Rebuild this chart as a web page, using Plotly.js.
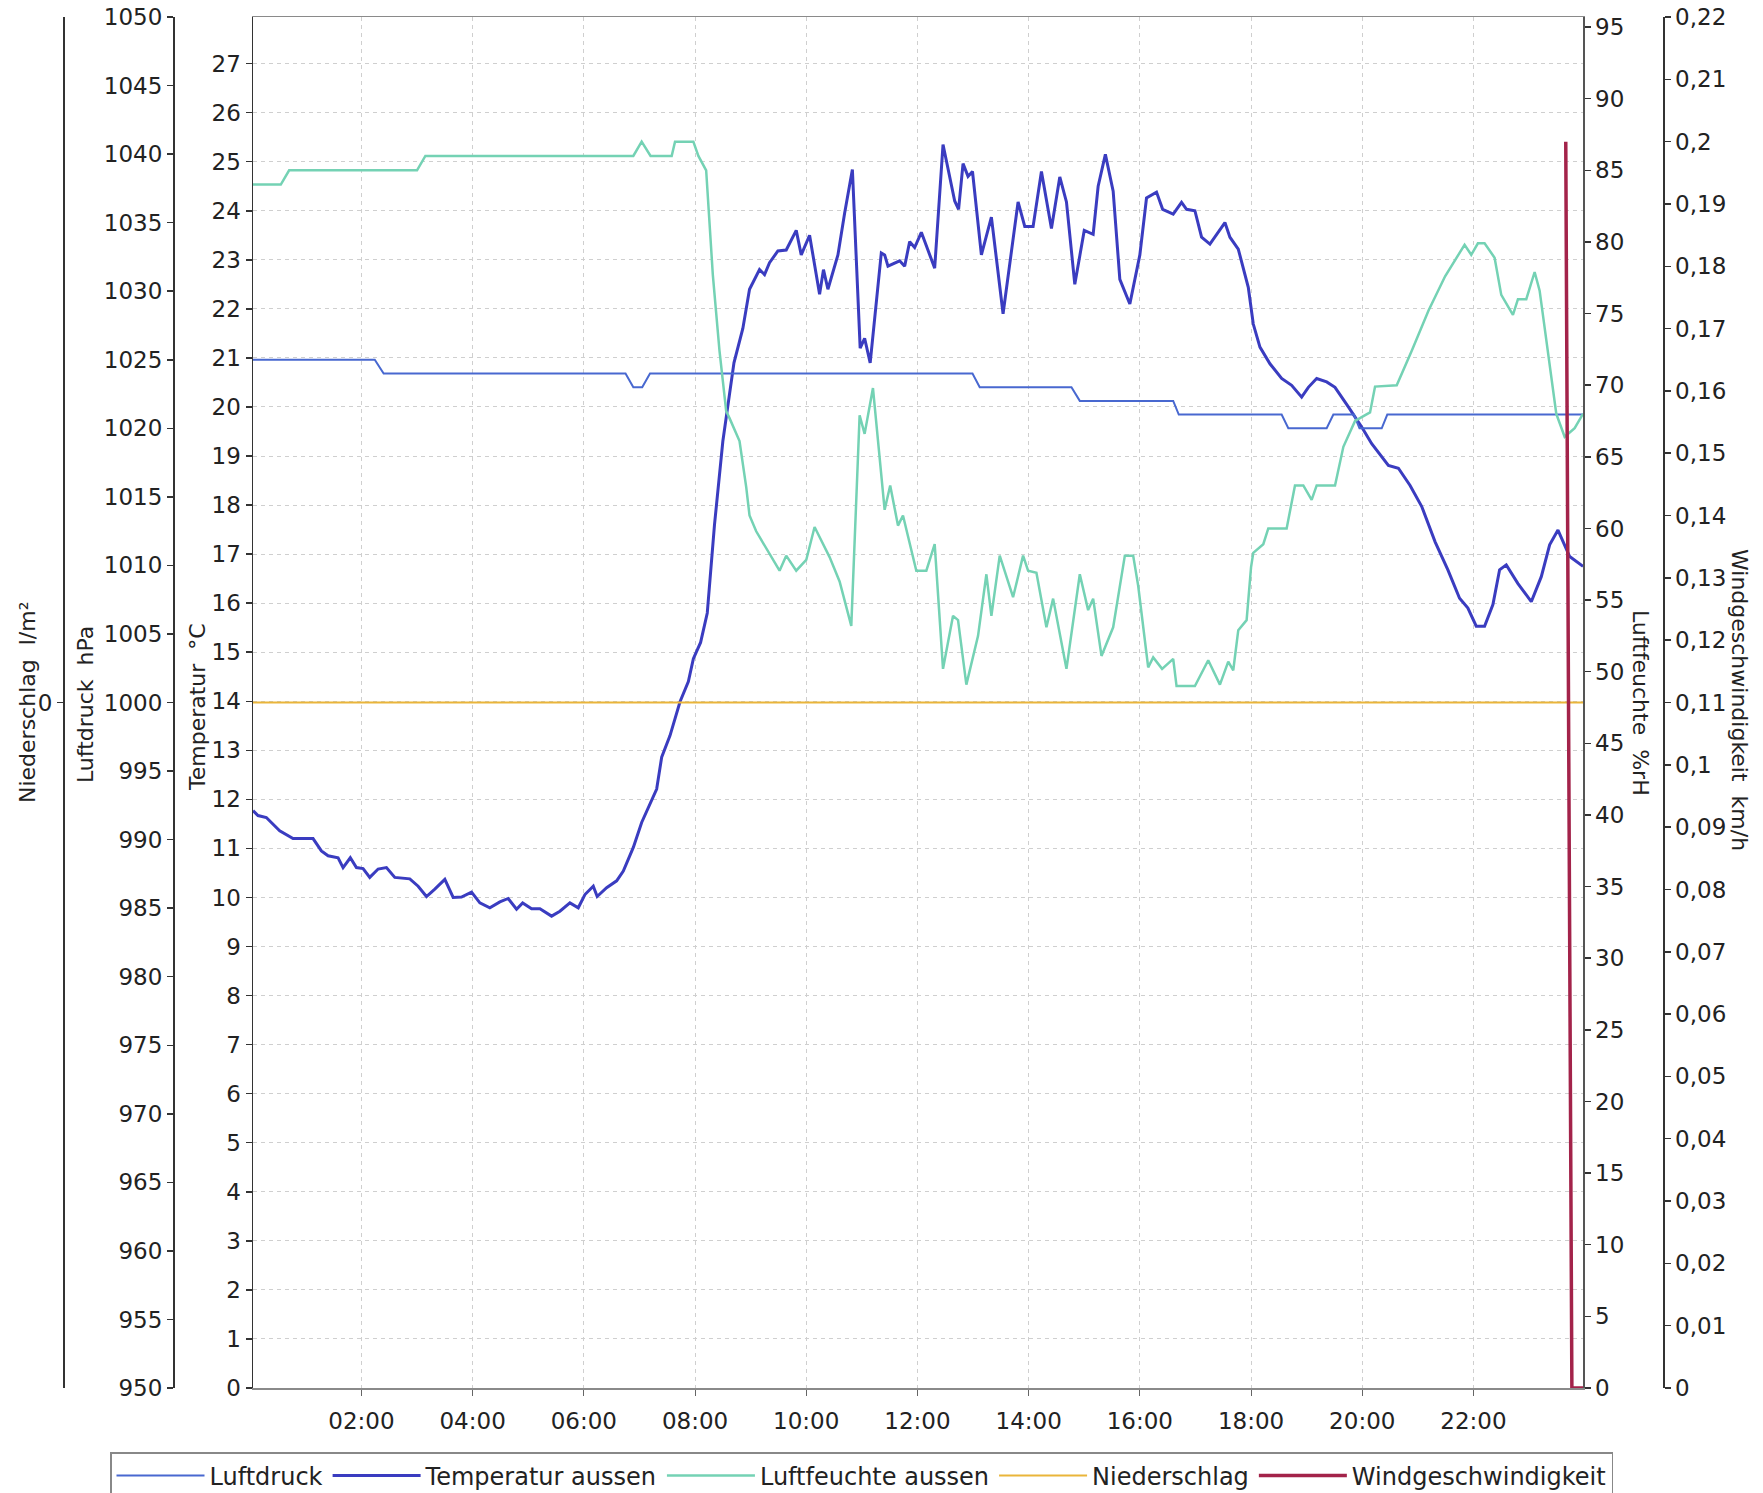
<!DOCTYPE html>
<html>
<head>
<meta charset="utf-8">
<script src="https://cdn.plot.ly/plotly-3.0.1.min.js"></script>
<style>
  html, body { margin: 0; padding: 0; background: #ffffff; }
  #chart { width: 1763px; height: 1493px; }
</style>
</head>
<body>
<div id="chart"></div>
<script>
// ---- Data (time in hours of day) ----
const tickHours = [2, 4, 6, 8, 10, 12, 14, 16, 18, 20, 22];
const tickLabels = ["02:00", "04:00", "06:00", "08:00", "10:00", "12:00", "14:00", "16:00", "18:00", "20:00", "22:00"];

const seriesNames = ["Luftdruck", "Temperatur aussen", "Luftfeuchte aussen", "Niederschlag", "Windgeschwindigkeit"];

const pressureTime = [0.05, 2.24, 2.40, 6.75, 6.89, 7.05, 7.19, 12.99, 13.12, 14.77, 14.92, 16.6, 16.7, 18.55, 18.67, 19.36, 19.48, 19.85, 19.95, 20.35, 20.45, 23.97];
const pressureHpa  = [1025, 1025, 1024, 1024, 1023, 1023, 1024, 1024, 1023, 1023, 1022, 1022, 1021, 1021, 1020, 1020, 1021, 1021, 1020, 1020, 1021, 1021];

const tempTime = [0.05,0.14,0.29,0.53,0.77,1.13,1.28,1.40,1.58,1.67,1.80,1.91,2.03,2.15,2.30,2.45,2.60,2.87,3.02,3.17,3.32,3.50,3.65,3.80,3.98,4.13,4.31,4.49,4.64,4.79,4.90,5.06,5.21,5.42,5.57,5.75,5.90,6.02,6.17,6.24,6.41,6.59,6.71,6.89,7.04,7.22,7.31,7.40,7.55,7.73,7.88,7.97,8.10,8.22,8.35,8.50,8.70,8.86,8.98,9.16,9.25,9.34,9.49,9.64,9.82,9.91,10.06,10.24,10.31,10.39,10.57,10.69,10.83,10.97,11.05,11.15,11.35,11.41,11.47,11.68,11.77,11.86,11.95,12.07,12.31,12.46,12.67,12.74,12.82,12.91,12.99,13.15,13.33,13.54,13.81,13.93,14.08,14.23,14.41,14.56,14.68,14.83,15.00,15.16,15.25,15.38,15.52,15.64,15.82,16.00,16.12,16.30,16.41,16.60,16.75,16.84,16.99,17.11,17.26,17.53,17.62,17.77,17.95,18.04,18.16,18.34,18.55,18.73,18.91,19.03,19.18,19.36,19.51,19.75,19.99,20.17,20.47,20.65,20.86,21.07,21.31,21.54,21.75,21.90,22.05,22.20,22.35,22.47,22.59,22.80,23.04,23.22,23.37,23.52,23.73,23.97];
const tempC = [11.77,11.67,11.63,11.36,11.2,11.2,10.95,10.85,10.81,10.61,10.81,10.61,10.59,10.41,10.58,10.61,10.41,10.38,10.23,10.02,10.17,10.37,10.0,10.01,10.11,9.89,9.79,9.91,9.98,9.76,9.89,9.77,9.77,9.62,9.72,9.89,9.79,10.06,10.23,10.02,10.2,10.34,10.54,11.02,11.53,11.97,12.21,12.86,13.3,13.99,14.4,14.87,15.2,15.8,17.6,19.3,20.9,21.6,22.4,22.8,22.7,22.94,23.18,23.2,23.6,23.1,23.5,22.3,22.8,22.4,23.1,23.95,24.84,21.2,21.4,20.9,23.14,23.1,22.87,22.98,22.87,23.37,23.25,23.56,22.83,25.35,24.2,24.03,24.96,24.7,24.8,23.1,23.87,21.9,24.18,23.68,23.68,24.8,23.64,24.69,24.18,22.5,23.6,23.52,24.5,25.15,24.4,22.6,22.1,23.1,24.26,24.38,24.03,23.93,24.17,24.03,24.0,23.46,23.32,23.76,23.46,23.22,22.44,21.69,21.22,20.88,20.58,20.44,20.2,20.4,20.58,20.51,20.4,20.0,19.59,19.25,18.81,18.75,18.4,17.97,17.25,16.68,16.1,15.9,15.53,15.53,15.97,16.68,16.78,16.4,16.03,16.54,17.19,17.49,16.95,16.75];

const humTime = [0.05,0.55,0.70,3.0,3.15,6.89,7.04,7.2,7.58,7.64,7.97,8.06,8.2,8.32,8.44,8.56,8.62,8.80,8.92,8.98,9.10,9.28,9.52,9.64,9.82,10.0,10.15,10.42,10.6,10.81,10.96,11.05,11.2,11.41,11.51,11.65,11.74,11.98,12.16,12.31,12.46,12.64,12.73,12.88,13.09,13.24,13.33,13.48,13.72,13.9,13.99,14.14,14.32,14.44,14.68,14.92,15.07,15.16,15.31,15.52,15.73,15.88,15.97,16.15,16.24,16.4,16.6,16.66,16.99,17.23,17.44,17.59,17.68,17.77,17.92,18.0,18.04,18.22,18.31,18.64,18.79,18.94,19.09,19.18,19.51,19.66,19.87,20.14,20.23,20.62,20.89,21.19,21.49,21.84,21.96,22.08,22.2,22.38,22.5,22.71,22.8,22.95,23.1,23.19,23.37,23.49,23.64,23.82,23.97];
const humPct = [84,84,85,85,86,86,87,86,86,87,87,86,85,77.7,72.4,68.2,67.7,66.1,62.9,60.9,59.8,58.6,57.05,58.1,57.05,57.8,60.1,58.0,56.3,53.2,67.9,66.6,69.8,61.3,63.0,60.2,60.9,57.05,57.05,58.9,50.2,53.9,53.6,49.1,52.5,56.8,53.9,58.1,55.2,58.1,57.05,56.9,53.1,55.1,50.2,56.8,54.3,55.1,51.1,53.1,58.1,58.1,56.0,50.3,51.0,50.2,50.9,49.0,49.0,50.8,49.1,50.7,50.1,52.9,53.6,57.3,58.3,58.9,60.0,60.0,63.0,63.0,62.0,63.0,63.0,65.7,67.5,68.1,69.9,70.0,72.4,75.2,77.6,79.8,79.1,79.9,79.9,78.9,76.3,74.9,76.0,76.0,77.9,76.6,71.2,68.0,66.4,67.0,68.0];

const rainTime = [0.05, 23.97];
const rainLm2  = [0, 0];

const windTime = [23.66, 23.77, 23.97];
const windKmh  = [0.2, 0, 0];

// ---- Styling ----
const FONT = "DejaVu Sans, Verdana, sans-serif";
const W = 1763, H = 1493;
const plotL = 253, plotR = 1583, plotT = 17, plotB = 1388;
const px = v => v / W;
const py = v => (H - v) / H;

const colors = {
  pressure: "#4868d0",
  temp: "#3a3cc0",
  hum: "#74d2b4",
  rain: "#eab53a",
  wind: "#a3234a"
};

const traces = [
  { x: pressureTime, y: pressureHpa, name: seriesNames[0], type: "scatter", mode: "lines",
    yaxis: "y2", line: { color: colors.pressure, width: 2 } },
  { x: tempTime, y: tempC, name: seriesNames[1], type: "scatter", mode: "lines",
    yaxis: "y", line: { color: colors.temp, width: 3 } },
  { x: humTime, y: humPct, name: seriesNames[2], type: "scatter", mode: "lines",
    yaxis: "y4", line: { color: colors.hum, width: 2.5 } },
  { x: rainTime, y: rainLm2, name: seriesNames[3], type: "scatter", mode: "lines",
    yaxis: "y3", line: { color: colors.rain, width: 2 } },
  { x: windTime, y: windKmh, name: seriesNames[4], type: "scatter", mode: "lines",
    yaxis: "y5", line: { color: colors.wind, width: 3.5 } }
];

const tickFont = { family: FONT, size: 23, color: "#222" };
const yDomain = [py(plotB), py(plotT)];
const commonY = {
  showline: true, linecolor: "#333", linewidth: 1.5,
  ticks: "outside", ticklen: 6, tickcolor: "#333", tickwidth: 1.5,
  tickfont: tickFont, zeroline: false, showgrid: false, domain: yDomain,
  fixedrange: true
};

const layout = {
  width: W, height: H,
  margin: { l: 0, r: 0, t: 0, b: 0, autoexpand: false },
  paper_bgcolor: "#ffffff", plot_bgcolor: "#ffffff",
  separators: ",.",
  font: { family: FONT, size: 23, color: "#222" },
  showlegend: true,
  legend: {
    orientation: "h", x: px(110), y: py(1452), xanchor: "left", yanchor: "top",
    bordercolor: "#888", borderwidth: 1.5, bgcolor: "#ffffff",
    font: { family: FONT, size: 24, color: "#222" },
    itemwidth: 88, traceorder: "normal"
  },
  xaxis: {
    domain: [px(plotL), px(plotR)], range: [0.05, 23.97],
    tickvals: tickHours, ticktext: tickLabels, tickfont: tickFont,
    showgrid: true, gridcolor: "#cfcfcf", griddash: "4px,4px", gridwidth: 1,
    showline: true, linecolor: "#8a8a8a", linewidth: 1.5, mirror: true,
    ticks: "outside", ticklen: 6, tickcolor: "#666", ticklabelstandoff: 6,
    zeroline: false, anchor: "y", fixedrange: true
  },
  yaxis: Object.assign({}, commonY, {
    range: [0, 27.95], dtick: 1, tick0: 0,
    showgrid: true, gridcolor: "#cfcfcf", griddash: "4px,4px", gridwidth: 1,
    anchor: "x", side: "left"
  }),
  yaxis2: Object.assign({}, commonY, {
    range: [950, 1050], dtick: 5, tick0: 950,
    overlaying: "y", anchor: "free", position: px(173), side: "left"
  }),
  yaxis3: Object.assign({}, commonY, {
    range: [-1, 1], tickvals: [0], ticktext: ["0"],
    overlaying: "y", anchor: "free", position: px(63), side: "left"
  }),
  yaxis4: Object.assign({}, commonY, {
    range: [0, 95.7], dtick: 5, tick0: 0, linecolor: "#555",
    overlaying: "y", anchor: "x", side: "right"
  }),
  yaxis5: Object.assign({}, commonY, {
    range: [0, 0.22], dtick: 0.01, tick0: 0,
    overlaying: "y", anchor: "free", position: px(1663), side: "right"
  }),
  annotations: [
    { text: "Niederschlag\u00a0 l/m²", x: px(27), y: py(703), textangle: -90 },
    { text: "Luftdruck\u00a0 hPa", x: px(85), y: py(705), textangle: -90 },
    { text: "Temperatur\u00a0 °C", x: px(198), y: py(707), textangle: -90 },
    { text: "Luftfeuchte\u00a0 %rH", x: px(1641), y: py(703), textangle: 90 },
    { text: "Windgeschwindigkeit\u00a0 km/h", x: px(1740), y: py(700), textangle: 90 }
  ].map(a => Object.assign({
    xref: "paper", yref: "paper", showarrow: false,
    xanchor: "center", yanchor: "middle",
    font: { family: FONT, size: 22, color: "#222" }
  }, a))
};

Plotly.newPlot("chart", traces, layout, { staticPlot: true, displayModeBar: false });
</script>
</body>
</html>
